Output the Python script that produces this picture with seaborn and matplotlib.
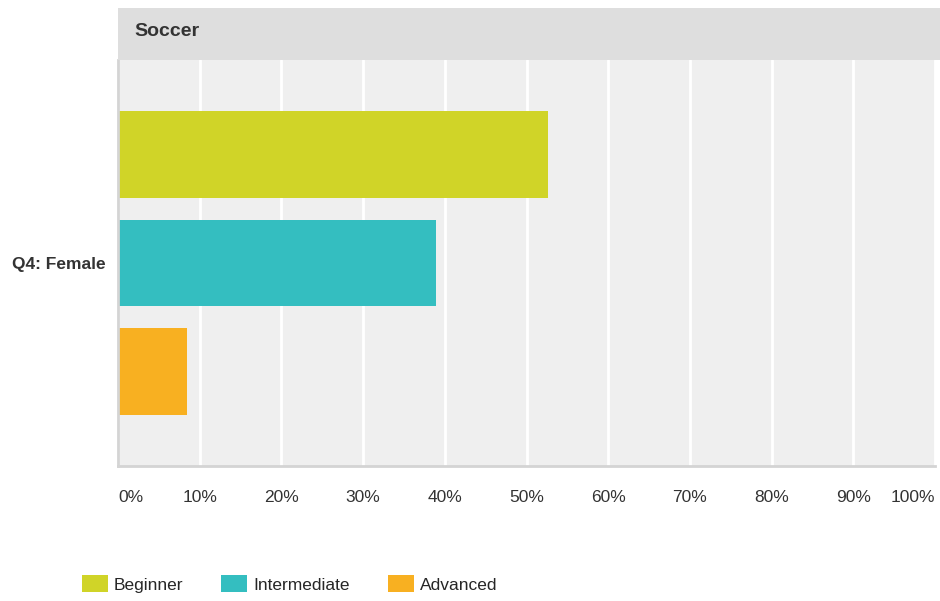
import pandas as pd
import matplotlib.pyplot as plt
import seaborn as sns
from matplotlib.patches import Rectangle, Patch

# Data
group = ["Q4: Female"]
levels = ["Beginner", "Intermediate", "Advanced"]
percent = [52.6, 38.9, 8.5]
colors = ["#d0d428", "#34bec0", "#f8b021"]
ticks = [0, 10, 20, 30, 40, 50, 60, 70, 80, 90, 100]
tick_labels = [f"{t}%" for t in ticks]

df = pd.DataFrame({"group": group * len(levels), "level": levels, "pct": percent})

sns.set_style("white")
plt.rcParams["font.family"] = ["Liberation Sans", "DejaVu Sans"]

fig = plt.figure(figsize=(9.4, 6.01), dpi=100)
ax = fig.add_axes([118 / 940, 135 / 601, 817 / 940, 406 / 601])
ax.set_facecolor("#efefef")

sns.barplot(data=df, y="group", x="pct", hue="level", orient="h",
            palette=colors, saturation=1, width=0.8, gap=0.2,
            linewidth=0, legend=False, ax=ax)

ax.set_xlim(0, 100)
ax.set_ylim(0.5, -0.5)
ax.set_xticks(ticks)
ax.set_xticklabels(tick_labels, fontsize=12.5, color="#333333")
for i, lab in enumerate(ax.get_xticklabels()):
    if i == 0:
        lab.set_ha("left")
    elif i == len(ticks) - 1:
        lab.set_ha("right")
ax.tick_params(axis="x", length=0, pad=17)
ax.tick_params(axis="y", length=0, pad=9)
ax.set_yticks([0])
ax.set_yticklabels(group, fontsize=12.5, fontweight="bold", color="#333333")
ax.set_xlabel("")
ax.set_ylabel("")
ax.grid(axis="x", color="white", linewidth=2)
ax.set_axisbelow(True)
for side in ["top", "right"]:
    ax.spines[side].set_visible(False)
for side in ["left", "bottom"]:
    ax.spines[side].set_color("#d4d4d4")
    ax.spines[side].set_linewidth(2)

# Header band
fig.patches.append(Rectangle((118 / 940, 541 / 601), 822 / 940, 52 / 601,
                             transform=fig.transFigure, facecolor="#dedede",
                             edgecolor="none", zorder=0))
fig.text(134 / 940, 569 / 601, "Soccer", fontsize=14, fontweight="bold",
         color="#333333", va="center", ha="left")

# Legend
handles = [Patch(facecolor=c, edgecolor="none") for c in colors]
fig.legend(handles, levels, loc="center left", bbox_to_anchor=(66 / 940, 17 / 601),
           ncol=3, frameon=False, fontsize=12.5, handlelength=1.5,
           handleheight=1.15, handletextpad=0.35, columnspacing=2.2)

fig.savefig("out.png", dpi=100)
